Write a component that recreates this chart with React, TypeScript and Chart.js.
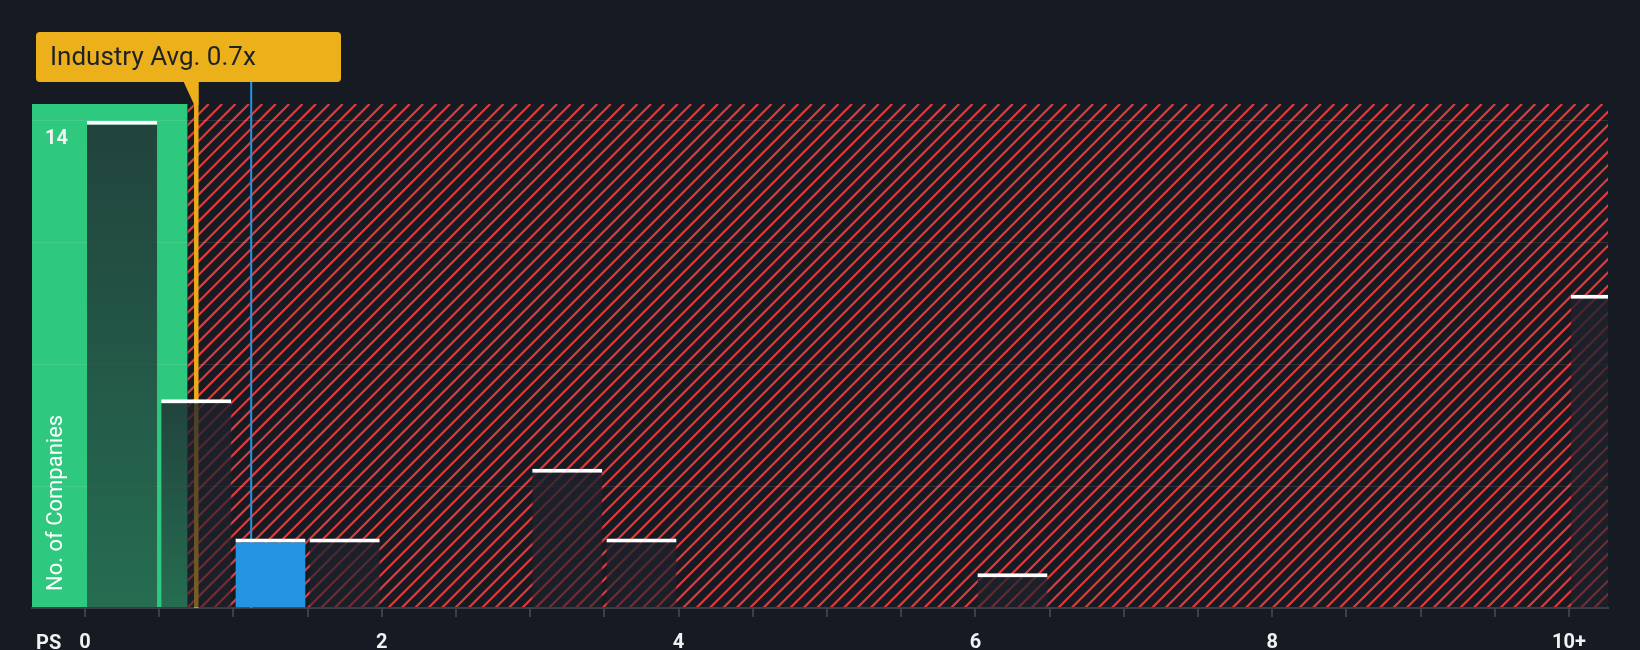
import React, { useEffect, useRef } from 'react';
import { Chart, registerables } from 'chart.js';

Chart.register(...registerables);

// PS histogram: bin starts (0.5 wide) and number of companies in each bin
const binStarts = [0, 0.5, 1.0, 1.5, 3.0, 3.5, 6.0, 10.0];
const companyCounts = [14, 6, 2, 2, 4, 2, 1, 9];
const binWidth = 0.5;

const xTickValues = [0, 0.5, 1, 1.5, 2, 2.5, 3, 3.5, 4, 4.5, 5, 5.5, 6, 6.5, 7, 7.5, 8, 8.5, 9, 9.5, 10];
const xTickLabels: Record<string, string> = { '0': '0', '2': '2', '4': '4', '6': '6', '8': '8', '10': '10+' };
const yGridValues = [0, 3.5, 7, 10.5, 14];
const yLabelValues = [14];

const industryAvg = 0.75;
const industryLabel = 'Industry Avg. 0.7x';
const companyPs = 1.12;
const goodRangeEnd = 0.69;
const xMin = -0.357;
const xMax = 10.263;
const yMax = 14.48;

const BG = '#161b23';
const GREEN = '#2ec87f';
const RED = '#e23a3b';
const YELLOW = '#ecb01a';
const BLUE = '#2394df';
const TEXT = '#f2f2f2';

const highlightIndex = binStarts.findIndex((b) => companyPs >= b && companyPs < b + binWidth);

const backdropPlugin = {
  id: 'backdrop',
  beforeDraw(chart: any) {
    const { ctx, chartArea: a, scales } = chart;
    const split = scales.x.getPixelForValue(goodRangeEnd);
    ctx.save();
    ctx.fillStyle = GREEN;
    ctx.fillRect(a.left, a.top, split - a.left, a.bottom - a.top);
    ctx.beginPath();
    ctx.rect(split, a.top, a.right - split, a.bottom - a.top);
    ctx.clip();
    ctx.strokeStyle = RED;
    ctx.lineWidth = 2.2;
    const gap = 13.4;
    const start = Math.floor((split + a.top) / gap) * gap + 4.5 - gap;
    for (let c = start; c < a.right + a.bottom + gap; c += gap) {
      ctx.beginPath();
      ctx.moveTo(c - a.bottom, a.bottom);
      ctx.lineTo(c - a.top, a.top);
      ctx.stroke();
    }
    ctx.restore();
  },
  beforeDatasetsDraw(chart: any) {
    const { ctx, chartArea: a, scales } = chart;
    const lineTop = a.top - 22;
    const ax = scales.x.getPixelForValue(industryAvg);
    const bx = scales.x.getPixelForValue(companyPs);
    ctx.save();
    ctx.fillStyle = '#eba91b';
    ctx.fillRect(ax - 2.25, lineTop, 4.5, a.bottom - lineTop);
    ctx.fillStyle = BLUE;
    ctx.fillRect(bx - 1, lineTop, 2, a.bottom - lineTop);
    ctx.restore();
  },
  afterDraw(chart: any) {
    const { ctx, chartArea: a, scales } = chart;
    const ax = scales.x.getPixelForValue(industryAvg);
    const boxLeft = a.left + 4;
    const boxTop = a.top - 72;
    const boxW = 305;
    const boxH = 50;
    ctx.save();
    ctx.fillStyle = YELLOW;
    ctx.beginPath();
    ctx.roundRect(boxLeft, boxTop, boxW, boxH, 4);
    ctx.fill();
    ctx.beginPath();
    ctx.moveTo(ax - 13, boxTop + boxH - 1);
    ctx.lineTo(ax + 2.25, boxTop + boxH - 1);
    ctx.lineTo(ax + 2.25, a.top + 1);
    ctx.lineTo(ax - 2, a.top + 1);
    ctx.closePath();
    ctx.fill();
    ctx.fillStyle = '#1d2129';
    ctx.font = '26px Roboto';
    ctx.textAlign = 'left';
    ctx.textBaseline = 'middle';
    ctx.fillText(industryLabel, boxLeft + 14, boxTop + 26);

    ctx.fillStyle = TEXT;
    ctx.font = 'bold 20px Roboto';
    ctx.fillText('PS', a.left + 4, a.bottom + 36);

    ctx.translate(a.left + 30, a.bottom - 17);
    ctx.rotate(-Math.PI / 2);
    ctx.textBaseline = 'alphabetic';
    ctx.font = '22px Roboto';
    ctx.fillStyle = '#ffffff';
    ctx.fillText('No. of Companies', 0, 0);
    ctx.restore();
  },
};

export default function App() {
  const canvasRef = useRef<HTMLCanvasElement>(null);

  useEffect(() => {
    if (!canvasRef.current) return;

    const chart = new Chart(canvasRef.current, {
      type: 'bar',
      data: {
        datasets: [
          {
            data: binStarts.map((b, i) => ({ x: b + binWidth / 2, y: companyCounts[i] })),
            backgroundColor: (c: any) => {
              if (c.dataIndex === highlightIndex) return BLUE;
              const { chart: ch } = c;
              if (!ch.chartArea || !c.parsed) return 'rgba(30,34,44,0.65)';
              const top = ch.scales.y.getPixelForValue(c.parsed.y);
              const bottom = ch.scales.y.getPixelForValue(0);
              const g = ch.ctx.createLinearGradient(0, top, 0, bottom);
              g.addColorStop(0, 'rgba(30,34,44,0.8)');
              g.addColorStop(1, 'rgba(30,34,44,0.55)');
              return g;
            },
            borderColor: '#ffffff',
            borderWidth: { top: 4, right: 0, bottom: 0, left: 0 },
            barPercentage: 0.945,
            categoryPercentage: 1,
            clip: 0,
          } as any,
        ],
      },
      options: {
        animation: false,
        responsive: true,
        maintainAspectRatio: false,
        events: [],
        layout: { padding: { top: 104, left: 32, right: 32, bottom: 0 } },
        plugins: { legend: { display: false }, tooltip: { enabled: false } },
        scales: {
          x: {
            type: 'linear',
            offset: false,
            min: xMin,
            max: xMax,
            afterBuildTicks: (s: any) => {
              s.ticks = xTickValues.map((v) => ({ value: v }));
            },
            afterFit: (s: any) => {
              s.height = 42;
            },
            grid: {
              offset: false,
              drawOnChartArea: false,
              drawTicks: true,
              tickLength: 9,
              color: '#3b4048',
              lineWidth: 2,
            },
            border: { display: true, color: '#3b4048', width: 2 },
            ticks: {
              autoSkip: false,
              maxRotation: 0,
              padding: 14,
              color: TEXT,
              font: { family: 'Roboto', size: 20, weight: 'bold' },
              callback: (v: any) => xTickLabels[String(v)] ?? '',
            },
          },
          y: {
            type: 'linear',
            min: 0,
            max: yMax,
            afterBuildTicks: (s: any) => {
              s.ticks = yGridValues.map((v) => ({ value: v }));
            },
            afterFit: (s: any) => {
              s.width = 0;
            },
            grid: { color: 'rgba(255,255,255,0.1)', lineWidth: 1, drawTicks: false },
            border: { display: false },
            ticks: {
              mirror: true,
              padding: 13,
              labelOffset: 18,
              color: TEXT,
              font: { family: 'Roboto', size: 20, weight: 'bold' },
              callback: (v: any) => (yLabelValues.includes(Number(v)) ? String(v) : ''),
            },
          },
        },
      } as any,
      plugins: [backdropPlugin],
    });

    return () => chart.destroy();
  }, []);

  return (
    <div style={{ position: 'absolute', left: 0, top: 0, width: 1640, height: 650, background: BG }}>
      <canvas ref={canvasRef} />
    </div>
  );
}
